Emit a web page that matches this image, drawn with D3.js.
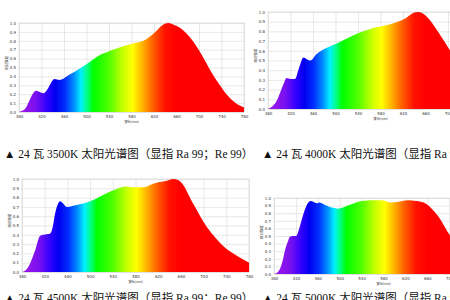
<!DOCTYPE html>
<html>
<head>
<meta charset="utf-8">
<script src="https://cdn.jsdelivr.net/npm/d3@7"></script>
<style>
  body { margin: 0; background: #fff; }
  svg { display: block; }
</style>
</head>
<body>
<div id="chart"></div>
<script>
// wavelength ticks and value ticks
var xTicks = [380, 420, 460, 500, 540, 580, 620, 660, 700, 740, 780];
var yTicks = [0, 0.1, 0.2, 0.3, 0.4, 0.5, 0.6, 0.7, 0.8, 0.9, 1.0];

var titles = [
  "▲ 24 瓦 3500K 太阳光谱图（显指 Ra 99；Re 99）",
  "▲ 24 瓦 4000K 太阳光谱图（显指 Ra 99；Re 99）",
  "▲ 24 瓦 4500K 太阳光谱图（显指 Ra 99；Re 99）",
  "▲ 24 瓦 5000K 太阳光谱图（显指 Ra 99；Re 99）"
];

// spectra (nm, relative intensity)
var wl3500 = [380, 390, 400, 405, 410, 415, 423, 430, 437, 443, 452, 470, 488, 505, 524, 547, 565, 583, 601, 619, 636, 645, 652, 662, 675, 690, 705, 720, 735, 750, 765, 780];
var val3500 = [0, 0.03, 0.15, 0.21, 0.24, 0.23, 0.21, 0.25, 0.33, 0.37, 0.36, 0.42, 0.49, 0.56, 0.64, 0.70, 0.74, 0.77, 0.80, 0.88, 0.98, 1.0, 0.99, 0.96, 0.9, 0.79, 0.64, 0.47, 0.32, 0.19, 0.1, 0.05];

var wl4000 = [380, 390, 395, 401, 407, 413, 420, 428, 435, 443, 450, 455, 467, 481, 504, 540, 564, 588, 606, 623, 638, 647, 659, 670, 682, 704, 720, 740, 760, 780];
var val4000 = [0, 0.04, 0.08, 0.16, 0.25, 0.32, 0.31, 0.31, 0.42, 0.53, 0.51, 0.50, 0.57, 0.62, 0.68, 0.78, 0.83, 0.86, 0.89, 0.93, 0.99, 1.0, 0.97, 0.9, 0.8, 0.6, 0.45, 0.3, 0.17, 0.08];

var wl4500 = [380, 388, 394, 403, 412, 418, 429, 434, 438, 444, 447, 452, 459, 476, 500, 517, 541, 564, 576, 593, 611, 635, 646, 655, 661, 682, 706, 722, 738, 760, 780];
var val4500 = [0, 0.03, 0.09, 0.23, 0.39, 0.40, 0.41, 0.48, 0.62, 0.74, 0.76, 0.74, 0.70, 0.72, 0.76, 0.81, 0.88, 0.92, 0.91, 0.91, 0.95, 0.98, 1.0, 0.99, 0.96, 0.73, 0.48, 0.36, 0.26, 0.17, 0.1];

var wl5000 = [380, 386, 391, 396, 400, 405, 409, 414, 420, 427, 432, 437, 444, 447, 452, 458, 463, 470, 479, 497, 515, 540, 558, 576, 595, 607, 625, 640, 656, 668, 680, 702, 720, 740, 760, 780];
var val5000 = [0, 0.02, 0.07, 0.18, 0.31, 0.42, 0.49, 0.50, 0.50, 0.62, 0.75, 0.86, 0.95, 0.96, 0.95, 0.93, 0.94, 0.92, 0.89, 0.86, 0.90, 0.96, 0.97, 0.97, 0.94, 0.95, 0.97, 0.96, 0.93, 0.86, 0.76, 0.5, 0.35, 0.22, 0.12, 0.06];

var spectra = [
  {wl: wl3500, val: val3500},
  {wl: wl4000, val: val4000},
  {wl: wl4500, val: val4500},
  {wl: wl5000, val: val5000}
];

// colour of light by wavelength
var rainbow = [
  [380, "#a018e8"], [410, "#7a10f0"], [430, "#3000ff"], [445, "#0000f0"],
  [462, "#0030ff"], [478, "#0090ff"], [490, "#00f0ff"], [500, "#00ff90"],
  [512, "#00ff00"], [540, "#50ff00"], [565, "#c8ff00"], [582, "#ffff00"],
  [600, "#ffb000"], [618, "#ff6000"], [640, "#ff1000"], [660, "#ff0000"], [780, "#ff0000"]
];

// panel boxes in the page
var boxes = [
  {left: 19, right: 244, top: 23, bottom: 112, tx: 4, ty: 158},
  {left: 268, right: 493, top: 12, bottom: 109, tx: 262, ty: 158},
  {left: 22, right: 249, top: 179, bottom: 272, tx: 4, ty: 302},
  {left: 274, right: 493, top: 198, bottom: 274, tx: 262, ty: 302}
];

var svg = d3.select("#chart")
  .append("svg")
  .attr("width", 450)
  .attr("height", 300)
  .style("overflow", "hidden");

var defs = svg.append("defs");

boxes.forEach(function(b, i) {
  var w = b.right - b.left, h = b.bottom - b.top;
  var x = d3.scaleLinear().domain([380, 780]).range([0, w]);
  var y = d3.scaleLinear().domain([0, 1]).range([h, 0]);

  var grad = defs.append("linearGradient")
    .attr("id", "spec" + i)
    .attr("gradientUnits", "userSpaceOnUse")
    .attr("x1", x(380)).attr("x2", x(780))
    .attr("y1", 0).attr("y2", 0);
  grad.selectAll("stop")
    .data(rainbow)
    .enter().append("stop")
    .attr("offset", function(d) { return (d[0] - 380) / 400; })
    .attr("stop-color", function(d) { return d[1]; });

  var g = svg.append("g")
    .attr("transform", "translate(" + b.left + "," + b.top + ")");

  // grid + tick labels
  var xAxis = d3.axisBottom(x).tickValues(xTicks).tickSize(-h).tickPadding(3)
    .tickFormat(d3.format("d"));
  var yAxis = d3.axisLeft(y).tickValues(yTicks).tickSize(-w).tickPadding(3)
    .tickFormat(d3.format(".1f"));

  var gx = g.append("g").attr("transform", "translate(0," + h + ")").call(xAxis);
  var gy = g.append("g").call(yAxis);
  [gx, gy].forEach(function(a) {
    a.select(".domain").remove();
    a.selectAll("line").attr("stroke", "#d9d9d9").attr("stroke-width", 0.6);
    a.selectAll("text").attr("font-size", 4).attr("fill", "#333")
      .attr("font-family", "DejaVu Sans");
  });

  g.append("rect")
    .attr("width", w).attr("height", h)
    .attr("fill", "none").attr("stroke", "#cfcfcf").attr("stroke-width", 0.6);

  var d = spectra[i];
  var pts = d.wl.map(function(v, k) { return [v, d.val[k]]; });
  var area = d3.area()
    .x(function(p) { return x(p[0]); })
    .y0(h)
    .y1(function(p) { return y(p[1]); })
    .curve(d3.curveMonotoneX);

  g.append("path")
    .datum(pts)
    .attr("d", area)
    .attr("fill", "url(#spec" + i + ")");

  g.append("text")
    .attr("x", w * 0.5 - 0)
    .attr("y", h + 11)
    .attr("text-anchor", "middle")
    .attr("font-size", 3.5)
    .attr("fill", "#333")
    .attr("font-family", "Noto Sans CJK SC")
    .text("波长(nm)");

  g.append("text")
    .attr("transform", "translate(-11," + (h * 0.45) + ") rotate(-90)")
    .attr("text-anchor", "middle")
    .attr("font-size", 3.5)
    .attr("fill", "#333")
    .attr("font-family", "Noto Sans CJK SC")
    .text("相对强度");

  svg.append("text")
    .attr("x", b.tx)
    .attr("y", b.ty)
    .attr("font-size", 11.5)
    .attr("fill", "#111")
    .attr("font-family", "'Liberation Serif', 'Noto Sans CJK SC'")
    .text(titles[i]);
});
</script>
</body>
</html>
